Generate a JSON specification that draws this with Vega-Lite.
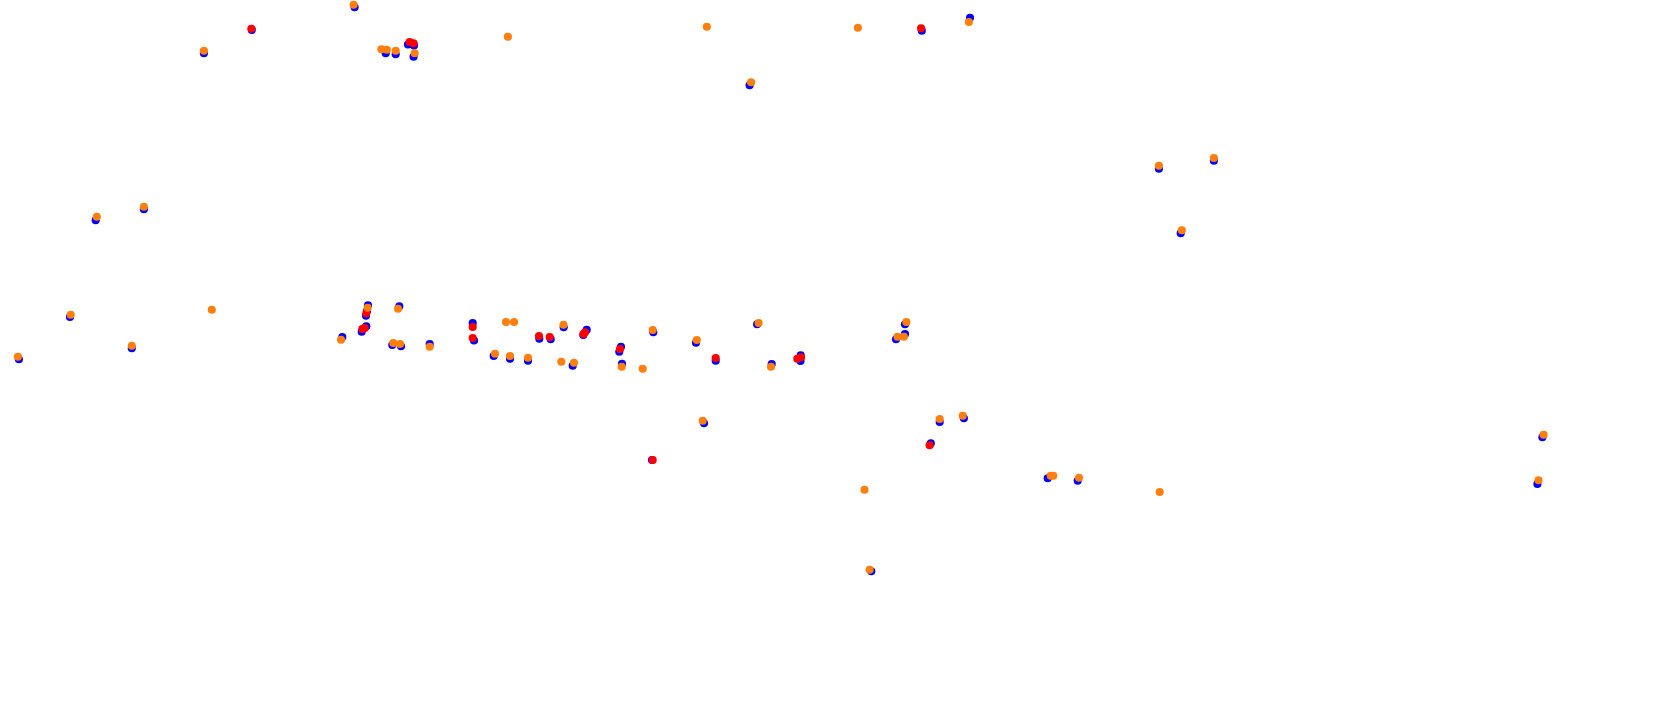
{
  "$schema": "https://vega.github.io/schema/vega-lite/v6.json",
  "width": 1680,
  "height": 728,
  "autosize": {"type": "fit", "contains": "padding"},
  "padding": 0,
  "background": "white",
  "config": {"view": {"stroke": null}},
  "datasets": {
    "blue": [
      {"x":354.6,"y":7.3},{"x":251.8,"y":30},{"x":203.9,"y":53.3},{"x":385.7,"y":53.3},{"x":395.7,"y":54.3},{"x":408,"y":44.5},{"x":414,"y":45.5},{"x":413.6,"y":56.7},{"x":143.9,"y":209.3},{"x":95.7,"y":220.3},
      {"x":921.8,"y":30.7},{"x":970,"y":17.7},{"x":749.6,"y":85.3},
      {"x":1158.9,"y":168.7},{"x":1213.9,"y":160.7},{"x":1180.7,"y":233.3},
      {"x":18.9,"y":359.3},{"x":70,"y":317},{"x":131.8,"y":348.3},{"x":342.3,"y":337},
      {"x":368,"y":305.3},{"x":367,"y":311},{"x":366,"y":315.7},{"x":366.3,"y":326.3},{"x":361.7,"y":331.7},
      {"x":399.3,"y":306.3},{"x":392.3,"y":345},{"x":401,"y":346.3},{"x":429.7,"y":344},
      {"x":472.7,"y":323},{"x":474,"y":340.5},{"x":563.7,"y":327.3},{"x":539.3,"y":338.7},{"x":550.7,"y":339.3},{"x":493.7,"y":356},{"x":510,"y":358.7},{"x":528,"y":360.7},{"x":572.7,"y":365.7},
      {"x":586.7,"y":329.7},{"x":583.3,"y":335},{"x":621,"y":346.7},{"x":619.3,"y":351.7},{"x":653.3,"y":332.3},{"x":622,"y":363.7},{"x":696,"y":342.7},{"x":757.1,"y":324.3},{"x":715.7,"y":360.7},{"x":771.7,"y":364},{"x":800.7,"y":355.3},{"x":800.5,"y":361},
      {"x":905,"y":324.3},{"x":896,"y":339.3},{"x":905,"y":334},
      {"x":704,"y":423.3},{"x":652,"y":460},
      {"x":939.7,"y":422},{"x":963.9,"y":418.3},{"x":930.8,"y":443.3},{"x":1047.7,"y":478.3},{"x":1077.7,"y":480.7},{"x":871.3,"y":571.3},{"x":1542.4,"y":437.3},{"x":1537.4,"y":484}
    ],
    "red": [
      {"x":251.4,"y":28.7},{"x":409.6,"y":42},{"x":413.6,"y":43.3},{"x":921.1,"y":28.3},{"x":366.3,"y":313.3},{"x":362.3,"y":329},{"x":364.7,"y":328},{"x":472.7,"y":327},{"x":472.7,"y":338},{"x":539,"y":336},{"x":549.7,"y":337},{"x":585,"y":332.3},{"x":583.5,"y":334},{"x":620,"y":349},{"x":715.7,"y":358},{"x":797.3,"y":358.7},{"x":801,"y":357.3},{"x":652.7,"y":460},{"x":929.6,"y":445.3}
    ],
    "orange": [
      {"x":353.6,"y":4.7},{"x":203.9,"y":50.7},{"x":381.4,"y":49.3},{"x":386.8,"y":49.7},{"x":395.7,"y":50.7},{"x":414.6,"y":53.3},{"x":507.9,"y":36.7},{"x":143.9,"y":206.7},{"x":96.8,"y":216.7},
      {"x":706.8,"y":26.7},{"x":857.9,"y":27.7},{"x":968.9,"y":22},{"x":751.1,"y":82.3},
      {"x":1158.9,"y":165.7},{"x":1213.9,"y":158},{"x":1181.8,"y":230.3},
      {"x":17.9,"y":356.7},{"x":70.7,"y":314.7},{"x":211.8,"y":309.7},{"x":131.8,"y":345.7},{"x":341,"y":339.7},
      {"x":367.7,"y":307.7},{"x":398,"y":308.7},{"x":393.3,"y":343},{"x":400,"y":344},{"x":429.7,"y":346.7},
      {"x":506,"y":322},{"x":514,"y":322},{"x":563.5,"y":324.8},{"x":495,"y":353.7},{"x":510,"y":356},{"x":528,"y":357.7},{"x":561.3,"y":361.8},{"x":574,"y":362.7},
      {"x":652.7,"y":330},{"x":621.7,"y":366.7},{"x":642.7,"y":368.7},{"x":696.8,"y":340},{"x":758.6,"y":323},{"x":771,"y":366.7},
      {"x":906.4,"y":322},{"x":897.5,"y":336.7},{"x":903.9,"y":336.7},
      {"x":702.7,"y":420.7},
      {"x":939.7,"y":419},{"x":962.7,"y":415.7},{"x":864.5,"y":489.7},{"x":1050.7,"y":475.7},{"x":1053.3,"y":475.7},{"x":1079,"y":477.7},{"x":1159.7,"y":492},{"x":869.6,"y":569.7},{"x":1543.6,"y":434.7},{"x":1538.5,"y":480.3}
    ]
  },
  "encoding": {
    "x": {"field": "x", "type": "quantitative", "scale": {"domain": [0, 1680], "nice": false, "zero": false}, "axis": null},
    "y": {"field": "y", "type": "quantitative", "scale": {"domain": [0, 728], "nice": false, "zero": false, "reverse": true}, "axis": null}
  },
  "layer": [
    {"data": {"name": "blue"}, "mark": {"type": "circle", "size": 66, "color": "#0000ff", "opacity": 1}},
    {"data": {"name": "red"}, "mark": {"type": "circle", "size": 66, "color": "#ff0000", "opacity": 1}},
    {"data": {"name": "orange"}, "mark": {"type": "circle", "size": 66, "color": "#ff7f0e", "opacity": 1}}
  ]
}
